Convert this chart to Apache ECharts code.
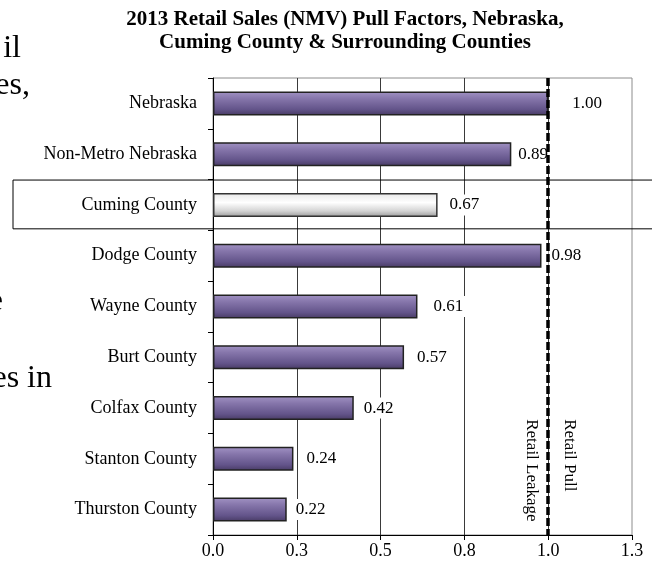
<!DOCTYPE html>
<html>
<head>
<meta charset="utf-8">
<script src="https://cdn.jsdelivr.net/npm/echarts@6/dist/echarts.min.js"></script>
<style>html,body{margin:0;padding:0;background:#fff}#c{width:652px;height:563px}</style>
</head>
<body>
<div id="c"></div>
<script>
// ---- data ----
const categories = ['Nebraska', 'Non-Metro Nebraska', 'Cuming County', 'Dodge County', 'Wayne County', 'Burt County', 'Colfax County', 'Stanton County', 'Thurston County'];
const pullFactors = [1.00, 0.89, 0.67, 0.98, 0.61, 0.57, 0.42, 0.24, 0.22];
const highlightCategory = 'Cuming County';
const axisMin = 0, axisMax = 1.25, axisStep = 0.25;
const referenceValue = 1.0;
const titleText = '2013 Retail Sales (NMV) Pull Factors, Nebraska,\nCuming County & Surrounding Counties';
const leakageText = 'Retail Leakage';
const pullText = 'Retail Pull';
const slideFragments = ['il', 'es,', 'e', 'es in'];

// ---- styles ----
const FONT = "'Liberation Serif','Times New Roman',serif";
const labelGaps = [21, 4, 9, 7, 13, 10, 7, 10, 6];
const fragmentPos = [[21, 65], [30, 102], [3, 318], [52, 395]];

const purple = {
  color: new echarts.graphic.LinearGradient(0, 0, 0, 1, [
    {offset: 0, color: '#a293c4'},
    {offset: 0.3, color: '#8676ab'},
    {offset: 0.75, color: '#63548a'},
    {offset: 1, color: '#473a63'}
  ]),
  borderColor: '#222', borderWidth: 1.5
};
const silver = {
  color: new echarts.graphic.LinearGradient(0, 0, 0, 1, [
    {offset: 0, color: '#e6e6e6'},
    {offset: 0.4, color: '#ffffff'},
    {offset: 0.75, color: '#d4d4d4'},
    {offset: 1, color: '#9a9a9a'}
  ]),
  borderColor: '#333', borderWidth: 1.5
};

const chart = echarts.init(document.getElementById('c'));
chart.setOption({
  animation: false,
  backgroundColor: '#fff',
  title: {
    text: titleText, left: 345, top: 8, textAlign: 'center', padding: 0,
    textStyle: {fontFamily: FONT, fontWeight: 'bold', fontSize: 21, lineHeight: 23, color: '#000'}
  },
  grid: {left: 213, right: 20, top: 78, bottom: 28, show: true, borderColor: '#8c8c8c', borderWidth: 1},
  xAxis: {
    type: 'value', min: axisMin, max: axisMax, interval: axisStep,
    axisLine: {show: true, lineStyle: {color: '#000', width: 1}},
    axisTick: {show: true, length: 5, lineStyle: {color: '#000'}},
    axisLabel: {formatter: v => v.toFixed(1), fontFamily: FONT, fontSize: 18, color: '#000', margin: 7},
    splitLine: {show: true, showMinLine: false, showMaxLine: false, lineStyle: {color: '#3a3a3a', width: 1}}
  },
  yAxis: {
    type: 'category', data: categories, inverse: true,
    axisLine: {show: true, lineStyle: {color: '#000', width: 1}},
    axisTick: {show: true, length: 5, lineStyle: {color: '#000'}},
    axisLabel: {fontFamily: FONT, fontSize: 18, color: '#000', margin: 16}
  },
  series: [{
    type: 'bar',
    barWidth: 24,
    data: pullFactors.map((v, i) => ({
      value: v,
      itemStyle: categories[i] === highlightCategory ? silver : purple,
      label: {distance: labelGaps[i]}
    })),
    label: {
      show: true, position: 'right', formatter: p => p.value.toFixed(2),
      backgroundColor: '#fff', padding: [2, 3],
      fontFamily: FONT, fontSize: 17, color: '#000'
    },
    markLine: {
      silent: true, symbol: ['none', 'none'], z: 10,
      label: {show: false},
      lineStyle: {color: '#000', type: [8, 3], width: 3.5},
      data: [{xAxis: referenceValue}]
    }
  }]
});

function overlay() {
  const yc = chart.convertToPixel({yAxisIndex: 0}, highlightCategory);
  const band = chart.getModel().getComponent('yAxis', 0).axis.getBandWidth();
  const xr = chart.convertToPixel({xAxisIndex: 0}, referenceValue);
  const bottomY = chart.convertToPixel({yAxisIndex: 0}, categories[categories.length - 1]);
  const startY = bottomY - band * 1.78;
  const els = [
    {type: 'rect', z: 20, shape: {x: 13, y: yc - band / 2 + 0.5, width: 700, height: band - 2},
     style: {fill: 'none', stroke: '#000', lineWidth: 1}},
    {type: 'text', z: 20, x: xr - 17, y: startY, rotation: -Math.PI / 2,
     style: {text: leakageText, font: '17px ' + FONT, fill: '#000', align: 'left', verticalAlign: 'middle'}},
    {type: 'text', z: 20, x: xr + 21, y: startY, rotation: -Math.PI / 2,
     style: {text: pullText, font: '17px ' + FONT, fill: '#000', align: 'left', verticalAlign: 'middle'}}
  ];
  slideFragments.forEach((t, i) => {
    els.push({type: 'text', z: 20, x: fragmentPos[i][0], y: fragmentPos[i][1],
      style: {text: t, font: '32px ' + FONT, fill: '#000', align: 'right', verticalAlign: 'bottom'}});
  });
  chart.setOption({graphic: els});
}
overlay();
</script>
</body>
</html>
